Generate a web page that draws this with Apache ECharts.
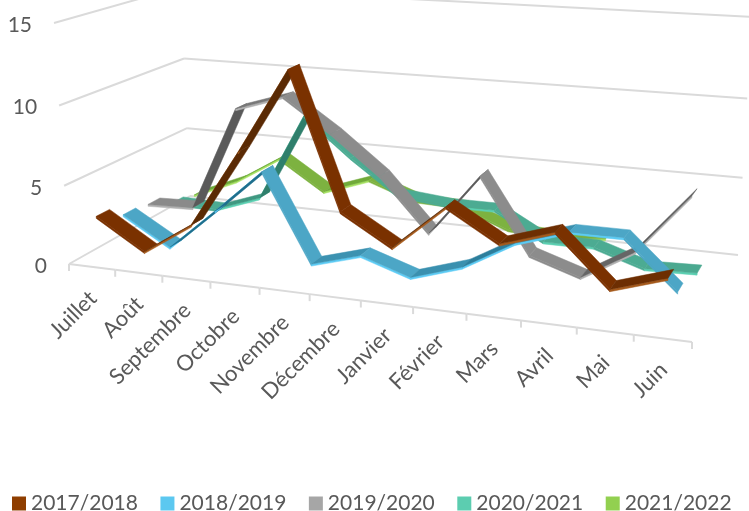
<!DOCTYPE html>
<html><head><meta charset="utf-8">
<style>html,body{margin:0;padding:0;background:#fff}#c{width:749px;height:511px}</style>
<script src="https://cdn.jsdelivr.net/npm/echarts@6/dist/echarts.min.js"></script>
</head><body><div id="c"></div>
<script>
const categories = ['Juillet','Août','Septembre','Octobre','Novembre','Décembre','Janvier','Février','Mars','Avril','Mai','Juin'];
const yTicks = [0,5,10,15];
const s2017 = [3.0,1.1,3.1,7.9,13.0,4.9,3.1,5.8,4.0,5.0,2.1,3.1];
const s2018 = [2.2,0.4,3.1,5.9,0.4,1.3,0.3,1.3,3.1,4.1,4.1,1.3];
const s2019 = [2.0,2.1,8.9,9.9,7.8,5.4,2.1,6.0,1.4,0.4,2.3,6.0];
const s2020 = [1.2,1.1,2.2,8.0,5.5,3.3,3.0,3.0,1.3,1.3,0.3,0.4];
const s2021 = [0.9,2.2,4.1,2.1,3.2,2.1,2.0,0.8,0.6,0.9,null,null];
const seriesNames = ['2017/2018','2018/2019','2019/2020','2020/2021','2021/2022'];
const seriesValues = [s2017,s2018,s2019,s2020,s2021];
const legendColors = ['#8F3E00','#5CC8F0','#A6A6A6','#5CCDB0','#92D050'];
const topColors = ['#7A3100','#4CA6C6','#8C8C8C','#4CAB92','#7DB240'];
const darkColors = ['#5A2A04','#1F6E8C','#5A5A5A','#2F7F6C','#5FA030'];
const rimColors = ['#A55A1C','#5CCBF4','#B0B0B0','#5CD0B2','#A4E060'];

const W = 749, H = 511, NC = categories.length, VMAX = 15;
function sq2quad(p){
  const [x0,y0]=p[0],[x1,y1]=p[1],[x2,y2]=p[2],[x3,y3]=p[3];
  const dx1=x1-x2,dx2=x3-x2,sx=x0-x1+x2-x3,dy1=y1-y2,dy2=y3-y2,sy=y0-y1+y2-y3;
  const den=dx1*dy2-dx2*dy1,g=(sx*dy2-dx2*sy)/den,h=(dx1*sy-sx*dy1)/den;
  const a=x1-x0+g*x1,b=x3-x0+h*x3,d=y1-y0+g*y1,e=y3-y0+h*y3;
  return (s,t)=>{const w=g*s+h*t+1;return [(a*s+b*t+x0)/w,(d*s+e*t+y0)/w];};
}
const floorH = sq2quad([[69,264],[692,342],[738,255],[190,196]]);
const topH = sq2quad([[54,23],[705,62],[752,17],[181,-13]]);
function proj(u,val,z){
  const a=floorH(u/NC,z),b=topH(u/NC,z),r=val/VMAX,k=r/(1+0.04*(1-r));
  return [a[0]+(b[0]-a[0])*k,a[1]+(b[1]-a[1])*k];
}
function unit(api,cat,val){const p=api.coord([cat,val]);return [p[0]/W*NC,(H-p[1])/H*VMAX];}
function hex(c){return [1,3,5].map(i=>parseInt(c.substr(i,2),16));}
function mix(c1,c2,t){const a=hex(c1),b=hex(c2);return 'rgb('+a.map((v,i)=>Math.round(v+(b[i]-v)*t)).join(',')+')';}

const HALF=0.05, THICK=0.13;
function ribbon(idx){
  const zc=0.1+0.2*idx, z0=zc-HALF, z1=zc+HALF;
  return function(params,api){
    const a=unit(api,api.value(0),api.value(1)), b=unit(api,api.value(0)+1,api.value(2));
    const rise=b[1]-a[1];
    const top=[proj(a[0],a[1],z0),proj(b[0],b[1],z0),proj(b[0],b[1],z1),proj(a[0],a[1],z1)];
    const front=[proj(a[0],a[1]-THICK,z0),proj(b[0],b[1]-THICK,z0),proj(b[0],b[1],z0),proj(a[0],a[1],z0)];
    const fill=mix(topColors[idx],darkColors[idx],Math.max(0,Math.min(1,rise/2.5)));
    const noRim=idx===1?rise<-2:rise<0;
    const rim=noRim?topColors[idx]:rimColors[idx];
    return {type:'group',children:[
      {type:'polygon',shape:{points:front},style:{fill:rim,stroke:rim,lineWidth:0.5}},
      {type:'polygon',shape:{points:top},style:{fill:fill,stroke:fill,lineWidth:0.5}}
    ]};
  };
}
function segs(vals){
  const out=[];
  for(let i=0;i<vals.length-1;i++) if(vals[i]!=null&&vals[i+1]!=null) out.push([i,vals[i],vals[i+1]]);
  return out;
}
const GRID={stroke:'#DADADA',lineWidth:2};
function ln(a,b){return {type:'line',shape:{x1:a[0],y1:a[1],x2:b[0],y2:b[1]},style:GRID};}

const yFrame={type:'custom',name:'yFrame',coordinateSystem:'cartesian2d',z:1,silent:true,
  data:yTicks.map(v=>[0,v]),encode:{x:0,y:1},
  renderItem(params,api){
    const v=unit(api,0,api.value(1))[1];
    const a=proj(0,v,0),b=proj(0,v,1),c=proj(NC,v,1);
    return {type:'group',children:[ln(a,b),ln(b,c),
      {type:'text',x:a[0]-22,y:a[1]+2,style:{text:String(api.value(1)),align:'right',verticalAlign:'middle',
        font:'21px Lato',fill:'#595959'}}]};
  }};
const xFrame={type:'custom',name:'xFrame',coordinateSystem:'cartesian2d',z:1,silent:true,
  data:categories.map((c,i)=>[i,0]),encode:{x:0,y:1},
  renderItem(params,api){
    const i=api.value(0),u=unit(api,i,0)[0];
    const kids=[];
    const tick=t=>{const p=proj(t,0,0);kids.push(ln(p,[p[0],p[1]+7]));};
    tick(u-.5); if(i===NC-1) tick(u+.5);
    kids.push(ln(proj(u-.5,0,0),proj(u+.5,0,0)));
    const p=proj(u,0,0);
    kids.push({type:'text',x:p[0]+1,y:p[1]+28,rotation:Math.PI/4,
      style:{text:categories[i],align:'right',verticalAlign:'middle',font:'22px Lato',fill:'#595959'}});
    return {type:'group',children:kids};
  }};

const chart=echarts.init(document.getElementById('c'),null,{renderer:'canvas'});
chart.setOption({
  animation:false,backgroundColor:'#fff',
  grid:{left:0,top:0,width:W,height:H,containLabel:false},
  xAxis:{type:'category',data:categories,show:false,boundaryGap:true},
  yAxis:{type:'value',min:0,max:VMAX,interval:5,show:false},
  legend:{data:seriesNames,left:7,top:488,icon:'rect',itemWidth:14,itemHeight:14,itemGap:22.5,
    textStyle:{color:'#595959',fontFamily:'Lato',fontSize:21}},
  tooltip:{show:false},
  series:[yFrame,xFrame].concat(seriesNames.map((n,i)=>({
    type:'custom',name:n,coordinateSystem:'cartesian2d',z:10-i,silent:true,clip:false,
    itemStyle:{color:legendColors[i]},data:segs(seriesValues[i]),encode:{x:0,y:1},renderItem:ribbon(i)
  })))
});
</script></body></html>
